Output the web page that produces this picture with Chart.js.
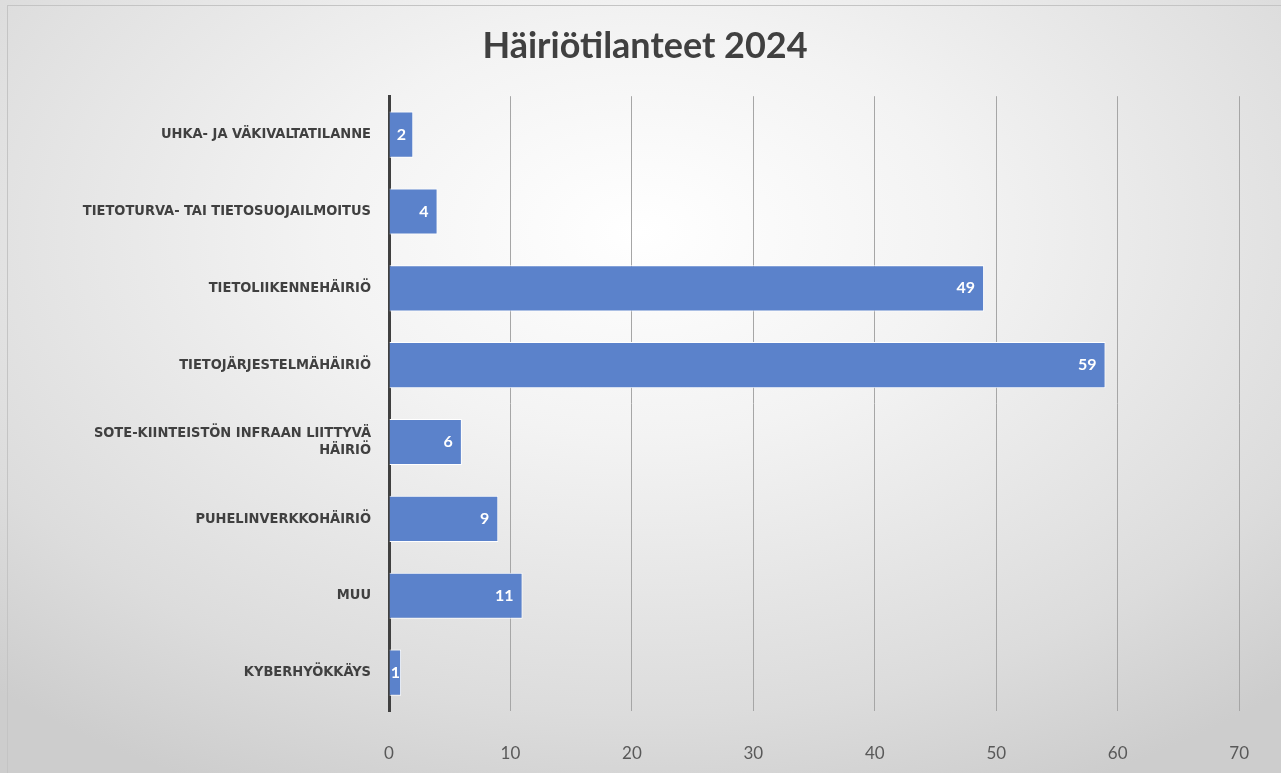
<!DOCTYPE html>
<html>
<head>
<meta charset="utf-8">
<script src="https://cdn.jsdelivr.net/npm/chart.js@4"></script>
<style>
  html, body { margin: 0; padding: 0; background: #fff; }
  #wrap {
    position: absolute; left: 0; top: 0; width: 1281px; height: 773px;
    background: radial-gradient(ellipse 75% 80% at 50% 30%, #ffffff 0%, #f3f3f3 33%, #dcdcdc 78%, #cdcdcd 100%);
  }
  #frame {
    position: absolute; left: 7px; top: 5px; width: 1280px; height: 770px;
    border-top: 1px solid #c4c4c4; border-left: 1px solid #c4c4c4; pointer-events: none;
  }
</style>
</head>
<body>
<div id="wrap"><canvas id="incidentChart" width="1281" height="773"></canvas></div>
<div id="frame"></div>
<script>
const categories = [
    'UHKA- JA VÄKIVALTATILANNE',
    'TIETOTURVA- TAI TIETOSUOJAILMOITUS',
    'TIETOLIIKENNEHÄIRIÖ',
    'TIETOJÄRJESTELMÄHÄIRIÖ',
    ['SOTE-KIINTEISTÖN INFRAAN LIITTYVÄ', 'HÄIRIÖ'],
    'PUHELINVERKKOHÄIRIÖ',
    'MUU',
    'KYBERHYÖKKÄYS'
];
const counts = [2, 4, 49, 59, 6, 9, 11, 1];
const xTicks = [0, 10, 20, 30, 40, 50, 60, 70];

// value labels inside the bar end (centered when the bar is too short)
const barLabels = {
    id: 'barLabels',
    afterDatasetsDraw(chart) {
        const ctx = chart.ctx;
        const meta = chart.getDatasetMeta(0);
        ctx.save();
        ctx.font = 'bold 16px Lato, "Open Sans", sans-serif';
        ctx.fillStyle = '#ffffff';
        ctx.textBaseline = 'middle';
        meta.data.forEach((bar, i) => {
            const txt = String(counts[i]);
            const w = ctx.measureText(txt).width;
            const len = bar.x - bar.base;
            if (len < w + 16) {
                ctx.textAlign = 'center';
                ctx.fillText(txt, bar.base + len / 2, bar.y);
            } else {
                ctx.textAlign = 'right';
                ctx.fillText(txt, bar.x - 9, bar.y);
            }
        });
        ctx.restore();
    }
};

const ctxIncidents = document.getElementById('incidentChart').getContext('2d');
new Chart(ctxIncidents, {
    type: 'bar',
    data: {
        labels: categories,
        datasets: [{
            label: 'Häiriötilanteet',
            data: counts,
            backgroundColor: '#5b82cb',
            borderColor: '#ffffff',
            borderWidth: 1,
            barPercentage: 0.6,
            categoryPercentage: 1
        }]
    },
    options: {
        indexAxis: 'y',
        responsive: false,
        animation: false,
        layout: { padding: { left: 47, right: 38, top: 0, bottom: 10 } },
        plugins: {
            legend: { display: false },
            tooltip: { enabled: false },
            title: {
                display: true,
                text: 'Häiriötilanteet 2024',
                color: '#404040',
                font: { family: 'Lato', size: 36, weight: 'bold' },
                padding: { top: 25, bottom: 28 }
            }
        },
        scales: {
            x: {
                min: 0,
                max: 70,
                afterBuildTicks(scale) {
                    scale.ticks = xTicks.map(v => ({ value: v }));
                },
                afterFit(scale) { scale.height = 52; },
                grid: { color: '#a6a6a6', lineWidth: 1, drawTicks: false },
                border: { display: false },
                ticks: {
                    color: '#595959',
                    padding: 32,
                    font: { family: 'Lato', size: 17 }
                }
            },
            y: {
                afterFit(scale) { scale.width = 342; },
                grid: { display: false },
                border: { display: true, color: '#404040', width: 3 },
                ticks: {
                    color: '#404040',
                    padding: 10,
                    font: { family: '"DejaVu Sans Condensed", Lato, sans-serif', size: 14.5, weight: 'bold' }
                }
            }
        }
    },
    plugins: [barLabels]
});
</script>
</body>
</html>
